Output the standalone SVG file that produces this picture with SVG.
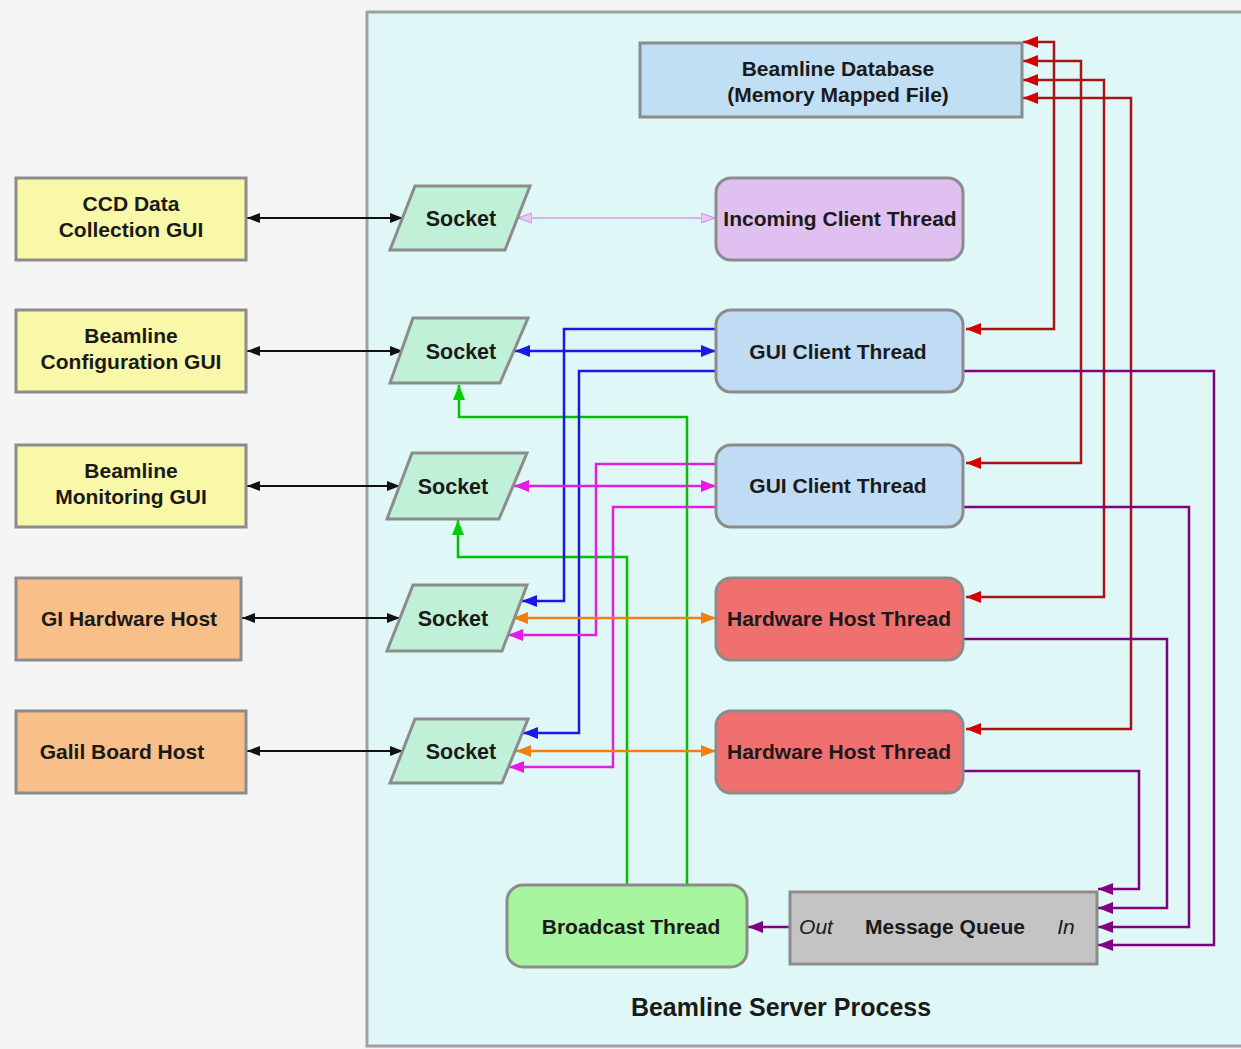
<svg xmlns="http://www.w3.org/2000/svg" width="1241" height="1049" viewBox="0 0 1241 1049">
<style>
text{font-family:"Liberation Sans",Arial,sans-serif;font-weight:bold;font-size:21px;fill:#1a1a1a;text-anchor:middle}
.it{font-style:italic;font-weight:normal}
.sk{font-size:21.5px}
.box{stroke:#8c8c8c;stroke-width:3}
.c{fill:none;stroke-width:2.5}
</style>
<defs>
<marker id="aK" markerUnits="userSpaceOnUse" markerWidth="14" markerHeight="12" refX="13" refY="6" orient="auto-start-reverse"><path d="M0,1 L13,6 L0,11 z" fill="#111"/></marker>
<marker id="aR" markerUnits="userSpaceOnUse" markerWidth="16" markerHeight="12" refX="15" refY="6" orient="auto-start-reverse"><path d="M0,0 L15,6 L0,12 z" fill="#d40000"/></marker>
<marker id="aP" markerUnits="userSpaceOnUse" markerWidth="16" markerHeight="12" refX="15" refY="6" orient="auto-start-reverse"><path d="M0,0 L15,6 L0,12 z" fill="#800080"/></marker>
<marker id="aG" markerUnits="userSpaceOnUse" markerWidth="16" markerHeight="12" refX="15" refY="6" orient="auto-start-reverse"><path d="M0,0 L15,6 L0,12 z" fill="#00d000"/></marker>
<marker id="aB" markerUnits="userSpaceOnUse" markerWidth="16" markerHeight="12" refX="15" refY="6" orient="auto-start-reverse"><path d="M0,0 L15,6 L0,12 z" fill="#1818e8"/></marker>
<marker id="aM" markerUnits="userSpaceOnUse" markerWidth="16" markerHeight="12" refX="15" refY="6" orient="auto-start-reverse"><path d="M0,0 L15,6 L0,12 z" fill="#e818e8"/></marker>
<marker id="aO" markerUnits="userSpaceOnUse" markerWidth="16" markerHeight="12" refX="15" refY="6" orient="auto-start-reverse"><path d="M0,0 L15,6 L0,12 z" fill="#f08010"/></marker>
<marker id="aL" markerUnits="userSpaceOnUse" markerWidth="16" markerHeight="12" refX="15" refY="6" orient="auto-start-reverse"><path d="M0,1 L14,6 L0,11 z" fill="#e8c8f8" stroke="#c090e0" stroke-width="1"/></marker>
</defs>
<rect x="0" y="0" width="1241" height="1049" fill="#f5f5f5"/>
<g id="server-process">
<rect x="367" y="12" width="880" height="1034" fill="#e0f7f7" stroke="#a0a0a0" stroke-width="3"/>
<text x="781" y="1016" style="font-size:25px">Beamline Server Process</text>
</g>
<g id="connectors">
<g class="c" stroke="#a81414" marker-start="url(#aR)" marker-end="url(#aR)">
<path d="M966,329 H1054 V42 H1023"/>
<path d="M966,463 H1081 V61 H1023"/>
<path d="M966,597 H1104 V80 H1023"/>
<path d="M966,729 H1131 V98 H1023"/>
</g>
<g class="c" stroke="#800080" marker-end="url(#aP)">
<path d="M964,371 H1214 V945 H1098"/>
<path d="M964,507 H1189 V927 H1098"/>
<path d="M964,639 H1167 V908 H1098"/>
<path d="M964,771 H1139 V889 H1098"/>
<path d="M790,927 H748"/>
</g>
<g class="c" stroke="#00c000" marker-end="url(#aG)">
<path d="M687,885 V417 H459 V385"/>
<path d="M627,885 V557 H458 V520"/>
</g>
<g class="c" stroke="#1818e0">
<path d="M515,351 H716" marker-start="url(#aB)" marker-end="url(#aB)"/>
<path d="M716,329 H564 V601 H522" marker-end="url(#aB)"/>
<path d="M716,371 H579 V733 H523" marker-end="url(#aB)"/>
</g>
<g class="c" stroke="#e020e0">
<path d="M514,486 H716" marker-start="url(#aM)" marker-end="url(#aM)"/>
<path d="M716,464 H596 V635 H508" marker-end="url(#aM)"/>
<path d="M716,507 H613 V767 H509" marker-end="url(#aM)"/>
</g>
<g class="c" stroke="#f08010" marker-start="url(#aO)" marker-end="url(#aO)">
<path d="M513,618 H716"/>
<path d="M516,751 H716"/>
</g>
<path d="M517,218 H716" fill="none" stroke="#c8a0e8" stroke-width="1.6" marker-start="url(#aL)" marker-end="url(#aL)"/>
<g fill="none" stroke="#111" stroke-width="2" marker-start="url(#aK)" marker-end="url(#aK)">
<path d="M247,218 H403"/>
<path d="M247,351 H403"/>
<path d="M247,486 H400"/>
<path d="M242,618 H400"/>
<path d="M247,751 H403"/>
</g>
</g>
<g id="ccd-gui"><rect class="box" x="16" y="178" width="230" height="82" fill="#f8f8a8"/><text x="131" y="211">CCD Data</text><text x="131" y="237">Collection GUI</text></g>
<g id="config-gui"><rect class="box" x="16" y="310" width="230" height="82" fill="#f8f8a8"/><text x="131" y="343">Beamline</text><text x="131" y="369">Configuration GUI</text></g>
<g id="monitor-gui"><rect class="box" x="16" y="445" width="230" height="82" fill="#f8f8a8"/><text x="131" y="478">Beamline</text><text x="131" y="504">Monitoring GUI</text></g>
<g id="gi-host"><rect class="box" x="16" y="578" width="225" height="82" fill="#f8c088"/><text x="129" y="626">GI Hardware Host</text></g>
<g id="galil-host"><rect class="box" x="16" y="711" width="230" height="82" fill="#f8c088"/><text x="122" y="759">Galil Board Host</text></g>
<g id="database"><rect class="box" x="640" y="43" width="382" height="74" fill="#c0dff5"/><text x="838" y="76">Beamline Database</text><text x="838" y="102">(Memory Mapped File)</text></g>
<g id="socket1"><polygon class="box" points="415,186 530,186 505,250 390,250" fill="#c0f0d8"/><text class="sk" x="461" y="226">Socket</text></g>
<g id="socket2"><polygon class="box" points="413,318 528,318 500,383 390,383" fill="#c0f0d8"/><text class="sk" x="461" y="359">Socket</text></g>
<g id="socket3"><polygon class="box" points="412,453 527,453 499,519 387,519" fill="#c0f0d8"/><text class="sk" x="453" y="494">Socket</text></g>
<g id="socket4"><polygon class="box" points="413,585 527,585 502,651 387,651" fill="#c0f0d8"/><text class="sk" x="453" y="626">Socket</text></g>
<g id="socket5"><polygon class="box" points="415,719 528,719 502,783 390,783" fill="#c0f0d8"/><text class="sk" x="461" y="759">Socket</text></g>
<g id="incoming-thread"><rect class="box" x="716" y="178" width="247" height="82" rx="15" fill="#e0c0f0"/><text x="840" y="226">Incoming Client Thread</text></g>
<g id="gui-thread1"><rect class="box" x="716" y="310" width="247" height="82" rx="15" fill="#c0dcf4"/><text x="838" y="359">GUI Client Thread</text></g>
<g id="gui-thread2"><rect class="box" x="716" y="445" width="247" height="82" rx="15" fill="#c0dcf4"/><text x="838" y="493">GUI Client Thread</text></g>
<g id="hw-thread1"><rect class="box" x="716" y="578" width="247" height="82" rx="15" fill="#f07070"/><text x="839" y="626">Hardware Host Thread</text></g>
<g id="hw-thread2"><rect class="box" x="716" y="711" width="247" height="82" rx="15" fill="#f07070"/><text x="839" y="759">Hardware Host Thread</text></g>
<g id="broadcast-thread"><rect class="box" x="507" y="885" width="240" height="82" rx="16" fill="#a8f5a0"/><text x="631" y="934">Broadcast Thread</text></g>
<g id="message-queue"><rect class="box" x="790" y="892" width="307" height="72" fill="#c4c4c4"/><text class="it" x="816" y="934">Out</text><text x="945" y="934">Message Queue</text><text class="it" x="1066" y="934">In</text></g>
</svg>
